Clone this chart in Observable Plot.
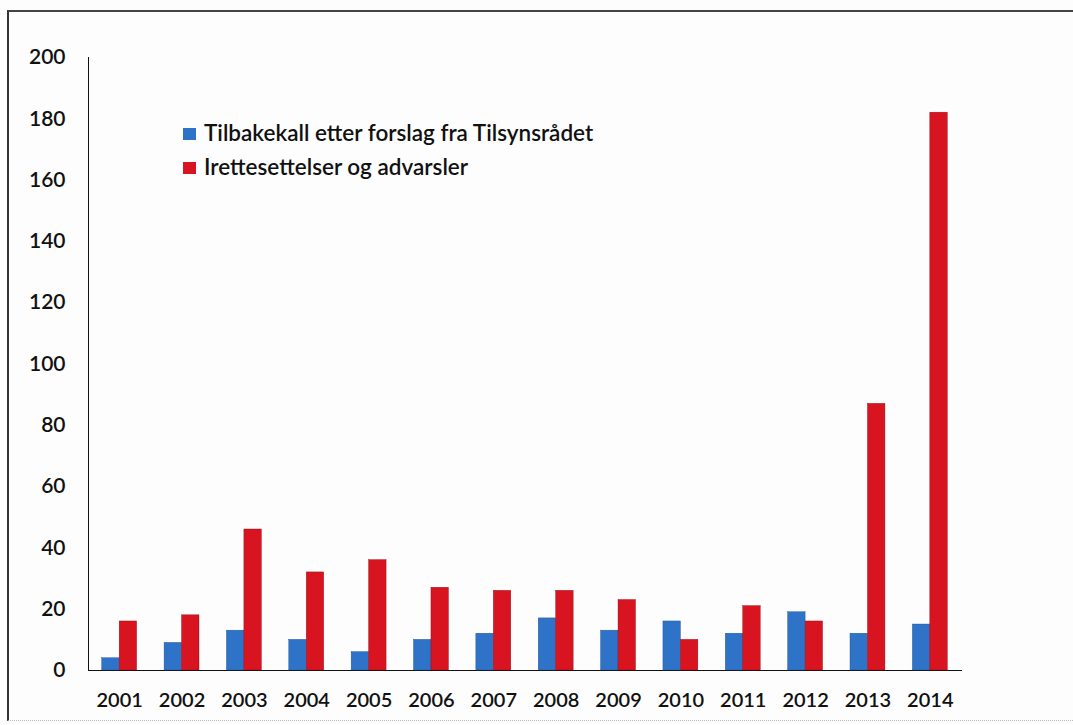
<!DOCTYPE html>
<html>
<head>
<meta charset="utf-8">
<script src="https://cdn.jsdelivr.net/npm/d3@7"></script>
<script src="https://cdn.jsdelivr.net/npm/@observablehq/plot@0.6"></script>
<style>
  html, body { margin: 0; padding: 0; background: #fff; }
  #wrap { position: relative; width: 1073px; height: 725px; overflow: hidden; background: #fdfdfd; }
  #border { position: absolute; left: 7px; top: 10px; width: 1100px; height: 711px;
            border-left: 2px solid #333; border-top: 2px solid #444; border-bottom: 1px dotted #bbb; box-sizing: border-box; }
  #legend { position: absolute; left: 183px; top: 115px; font-family: Lato, "Open Sans", sans-serif; font-size: 22.5px; color: #111; font-weight: 600; }
  #legend .item { display: flex; align-items: center; height: 34px; }
  #legend .sw { width: 13px; height: 12px; margin-right: 8px; margin-top: 3px; }
  #chart { position: absolute; left: 0; top: 0; }
</style>
</head>
<body>
<div id="wrap">
  <div id="border"></div>
  <div id="chart"></div>
  <div id="legend"></div>
</div>
<script>
const years = [2001, 2002, 2003, 2004, 2005, 2006, 2007, 2008, 2009, 2010, 2011, 2012, 2013, 2014];
const tilbakekall = [4, 9, 13, 10, 6, 10, 12, 17, 13, 16, 12, 19, 12, 15];
const irettesettelser = [16, 18, 46, 32, 36, 27, 26, 26, 23, 10, 21, 16, 87, 182];
const seriesNames = ["Tilbakekall etter forslag fra Tilsynsrådet", "Irettesettelser og advarsler"];
const seriesColors = ["#2f73c9", "#d7141f"];
const yTicks = [0, 20, 40, 60, 80, 100, 120, 140, 160, 180, 200];

const barW = 0.28; // fraction of a year step per bar

const blue = years.map((y, i) => ({year: y, value: tilbakekall[i]}));
const red = years.map((y, i) => ({year: y, value: irettesettelser[i]}));

const chart = Plot.plot({
  width: 1073,
  height: 725,
  marginLeft: 88,
  marginRight: 112,
  marginTop: 57,
  marginBottom: 55,
  style: {fontFamily: "Lato, 'Open Sans', sans-serif", fontSize: "20px", fontWeight: 600, color: "#111", background: "transparent"},
  x: {type: "linear", domain: [years[0] - 0.5, years[years.length - 1] + 0.5], ticks: years, tickFormat: d => String(d), tickSize: 0, tickPadding: 22, line: true, label: null},
  y: {domain: [0, 200], ticks: yTicks, tickSize: 0, tickPadding: 23, line: true, label: null},
  marks: [
    Plot.rectY(blue, {x1: d => d.year - barW, x2: d => d.year, y: "value", fill: seriesColors[0], stroke: "#1d4f8f", strokeWidth: 0.4}),
    Plot.rectY(red, {x1: d => d.year, x2: d => d.year + barW, y: "value", fill: seriesColors[1], stroke: "#8f0d14", strokeWidth: 0.4})
  ]
});
chart.querySelectorAll("g[aria-label='y-axis tick label'] text").forEach(t => t.setAttribute("font-size", "21"));
document.getElementById("chart").appendChild(chart);

const legend = document.getElementById("legend");
seriesNames.forEach((name, i) => {
  const item = document.createElement("div");
  item.className = "item";
  const sw = document.createElement("span");
  sw.className = "sw";
  sw.style.background = seriesColors[i];
  const label = document.createElement("span");
  label.textContent = name;
  item.appendChild(sw);
  item.appendChild(label);
  legend.appendChild(item);
});
</script>
</body>
</html>
